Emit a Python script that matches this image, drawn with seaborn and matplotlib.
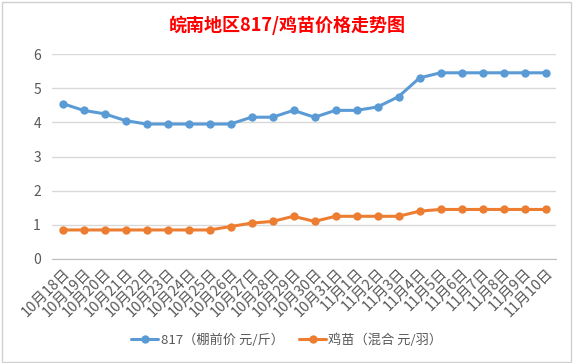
import matplotlib
matplotlib.use("Agg")
import matplotlib.pyplot as plt
import numpy as np
import pandas as pd
import seaborn as sns

dates = (
    [f"10月{d}日" for d in range(18, 32)]
    + [f"11月{d}日" for d in range(1, 11)]
)
price_817 = [4.55, 4.35, 4.25, 4.05, 3.95, 3.95, 3.95, 3.95, 3.95, 4.15, 4.15, 4.35,
             4.15, 4.35, 4.35, 4.45, 4.75, 5.3, 5.45, 5.45, 5.45, 5.45, 5.45, 5.45]
price_chick = [0.85, 0.85, 0.85, 0.85, 0.85, 0.85, 0.85, 0.85, 0.95, 1.05, 1.1, 1.25,
               1.1, 1.25, 1.25, 1.25, 1.25, 1.4, 1.45, 1.45, 1.45, 1.45, 1.45, 1.45]
series_names = ["817（棚前价 元/斤）", "鸡苗（混合 元/羽）"]
colors = ["#5B9BD5", "#ED7D31"]

df = pd.DataFrame({
    "date": dates * 2,
    "idx": list(range(len(dates))) * 2,
    "price": price_817 + price_chick,
    "series": [series_names[0]] * len(dates) + [series_names[1]] * len(dates),
})

sns.set_style("white")
plt.rcParams["font.family"] = ["Noto Sans CJK SC", "DejaVu Sans"]

fig = plt.figure(figsize=(5.74, 3.63), dpi=100)
ax = fig.add_axes([52 / 574, 1 - 259 / 363, 504 / 574, 205 / 363])

sns.lineplot(data=df, x="idx", y="price", hue="series", palette=colors,
             marker="o", markersize=6, markeredgewidth=0, linewidth=2.2, ax=ax)

ax.set_xlim(-0.5, len(dates) - 0.5)
ax.set_ylim(0, 6)
ax.set_yticks(range(0, 7))
ax.yaxis.grid(True, color="#D9D9D9", linewidth=1)
ax.set_xticks(range(len(dates)))
ax.set_xticklabels(dates, rotation=45, ha="right", rotation_mode="anchor",
                   fontsize=10.5, color="#595959")
ax.set_xticks(np.arange(-0.5, len(dates), 1), minor=True)
ax.tick_params(axis="x", which="major", length=0, pad=5)
ax.tick_params(axis="x", which="minor", length=4, color="#BFBFBF", width=1)
ax.tick_params(axis="y", length=0, labelsize=10, labelcolor="#595959", pad=8)
ax.set_xlabel("")
ax.set_ylabel("")
for side in ["top", "right", "left"]:
    ax.spines[side].set_visible(False)
ax.spines["bottom"].set_color("#BFBFBF")

handles, labels = ax.get_legend_handles_labels()
ax.legend(handles, labels, loc="center", bbox_to_anchor=(0.5, 1 - 340 / 363),
          bbox_transform=fig.transFigure, ncol=2, frameon=False, fontsize=9.5,
          handlelength=2.0, handletextpad=0.2, columnspacing=1.2, labelcolor="#595959")

fig.text(0.5, 1 - 25 / 363, "皖南地区817/鸡苗价格走势图", ha="center", va="center",
         color="#FF0000", fontsize=13, fontweight="bold")

fig.patches.append(plt.Rectangle((0.004, 0.004), 0.99, 0.99, transform=fig.transFigure,
                                 fill=False, edgecolor="#D0D0D0", linewidth=1))

fig.savefig("out.png", dpi=100)
plt.close(fig)
